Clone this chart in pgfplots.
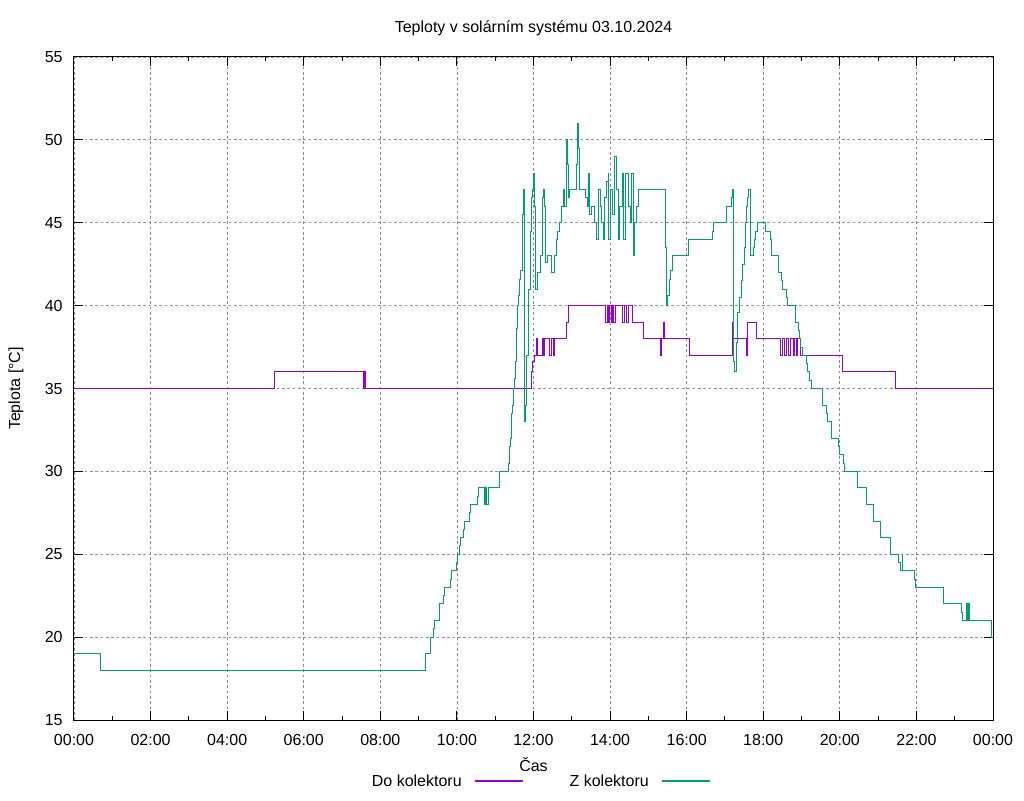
\documentclass[border=0pt]{standalone}
\usepackage{fontspec}
\setmainfont{Liberation Sans}
\usepackage{pgfplots}
\pgfplotsset{compat=1.18}
\definecolor{cpurple}{HTML}{9400D3}
\definecolor{cgreen}{HTML}{009E73}
\pgfplotsset{
 helperlegend/.style={hide axis, scale only axis, width=36pt, height=1pt,
   xmin=0, xmax=1, ymin=0, ymax=1, anchor=west, clip=false},
}
\begin{document}
\begin{tikzpicture}[font=\fontsize{12pt}{14pt}\selectfont]
\begin{axis}[helperlegend, name=legA, at={(300.725pt,-45.75pt)}]
\addplot[color=cpurple, draw=cpurple, line width=1pt] coordinates {(0,0.5) (1,0.5)};
\end{axis}
\begin{axis}[helperlegend, name=legB, at={(441.025pt,-45.75pt)}]
\addplot[color=cgreen, draw=cgreen, line width=1pt] coordinates {(0,0.5) (1,0.5)};
\end{axis}
\begin{axis}[
 name=main, at={(0pt,0pt)}, anchor=south west,
 scale only axis, width=689.25pt, height=497.25pt,
 xmin=0, xmax=24, ymin=15, ymax=55,
 xtick={0,2,...,24},
 xticklabels={00:00,02:00,04:00,06:00,08:00,10:00,12:00,14:00,16:00,18:00,20:00,22:00,00:00},
 minor xtick={1,3,...,23},
 ytick={15,20,...,55},
 grid=major,
 major grid style={color=black!45, dash pattern=on 2pt off 2pt, line width=0.6pt},
 axis line style={black, line width=0.75pt},
 tick style={black, line width=0.75pt},
 major tick length=6.5pt, minor tick length=3.3pt,
 /pgf/number format/assume math mode=true,
 ticklabel style={font=\fontsize{12pt}{14pt}\selectfont},
 yticklabel style={xshift=-5pt},
 xticklabel style={yshift=-7pt},
]
\addplot[const plot, color=cpurple, line width=0.75pt] table {
x y
0 35
5.23 36
7.56 35
7.58 36
7.60 35
11.95 36
11.98 36.6
12.02 37
12.07 38
12.11 37
12.18 37
12.23 38
12.27 37
12.30 38
12.42 37
12.46 38
12.52 37
12.55 38
12.85 39
12.91 40
13.89 39
13.93 40
13.96 39
13.98 40
14.03 39
14.06 40
14.10 39
14.13 40
14.33 39
14.37 40
14.44 39
14.47 40
14.59 39
14.87 38
15.32 37
15.35 38
15.40 39
15.43 38
16.08 37
17.20 39
17.22 38
17.56 37
17.60 39
17.82 38
18.45 37
18.50 38
18.55 37
18.60 38
18.65 37
18.72 38
18.78 37
18.82 38
18.86 37
18.90 38
18.96 37
20.07 36
21.45 35
24 35
};
\addplot[const plot, color=cgreen, line width=0.75pt] table {
x y
0 19
0.705 18
9.176 19
9.306 20
9.393 20.5
9.411 21
9.541 22
9.646 22.5
9.672 23
9.828 23.5
9.854 24
9.976 24.5
10.003 25
10.055 25.5
10.098 26
10.168 26.5
10.194 27
10.325 27.5
10.360 28
10.542 28.5
10.560 29
10.708 28
10.743 29
10.778 28
10.830 29
11.108 30
11.343 30.5
11.361 31.5
11.387 32
11.413 33.5
11.448 34
11.474 35
11.50 35.6
11.53 36.6
11.56 38.6
11.58 40
11.61 40.6
11.64 41.6
11.66 42.1
11.70 43.1
11.72 45.5
11.74 47
11.76 33
11.79 34
11.82 37
11.86 41
11.91 44.5
11.95 46.5
11.97 47
11.99 48
12.03 46
12.06 41
12.10 42
12.19 43
12.24 46.5
12.26 47
12.29 46
12.32 42.6
12.37 43
12.47 42
12.56 43
12.59 44
12.62 44.5
12.68 45
12.74 46
12.78 47
12.82 46
12.87 50
12.89 48.5
12.91 46.5
12.94 47
13.13 48.5
13.16 51
13.18 49.5
13.20 47
13.36 46.5
13.40 46
13.43 48
13.46 45.5
13.52 46
13.58 45
13.64 44
13.71 47
13.75 46
13.77 45
13.82 44
13.86 46.5
13.90 47.5
13.95 48
13.97 44
14.01 47
14.06 45.5
14.12 49
14.17 47
14.21 44
14.25 46
14.32 48
14.36 44
14.41 48
14.47 46
14.52 45
14.56 48
14.60 43
14.65 45
14.69 46
14.74 47
15.45 43.5
15.47 40
15.51 40.6
15.54 41.1
15.56 41.6
15.59 42.1
15.62 43
16.06 44
16.68 44.5
16.70 45
17.03 46
17.18 46.5
17.195 47
17.21 38
17.23 36.6
17.26 36
17.29 37.8
17.33 39.6
17.38 40.5
17.42 41.5
17.46 42.5
17.50 43.5
17.54 45
17.57 46
17.60 46.5
17.62 47
17.66 43
17.75 43.5
17.78 44
17.81 44.5
17.85 45
18.07 44.5
18.20 44
18.22 43
18.40 42
18.47 41.5
18.50 41
18.60 40.5
18.63 40
18.84 39
18.91 38.5
18.95 38
18.98 37.5
19.02 37
19.12 36.5
19.15 36
19.22 35.5
19.25 35
19.54 34
19.66 33.5
19.68 33
19.78 32
19.96 31.5
20.00 31
20.10 30.5
20.12 30
20.45 29.5
20.47 29
20.70 28
20.89 27
21.07 26
21.31 25
21.54 24.5
21.58 24
21.63 25
21.64 24
21.95 23.5
21.97 23
22.70 22
23.18 21.5
23.21 21
23.30 22
23.33 21
23.36 22
23.39 21
23.95 20.5
23.97 20
24 20
};
\end{axis}
\node[anchor=east, inner sep=0pt] at ([xshift=-9.75pt]legA.west) {Do kolektoru};
\node[anchor=east, inner sep=0pt] at ([xshift=-9.75pt]legB.west) {Z kolektoru};
\node at ([yshift=21.75pt]main.north) {Teploty v solárním systému 03.10.2024};
\node at ([yshift=-33.75pt]main.south) {Čas};
\node[rotate=90] at ([xshift=-43.5pt]main.west) {Teplota [°C]};
\pgfresetboundingbox
\path ([shift={(-55.5pt,-60pt)}]main.south west) rectangle ([shift={(23.25pt,42.75pt)}]main.north east);
\end{tikzpicture}
\end{document}
